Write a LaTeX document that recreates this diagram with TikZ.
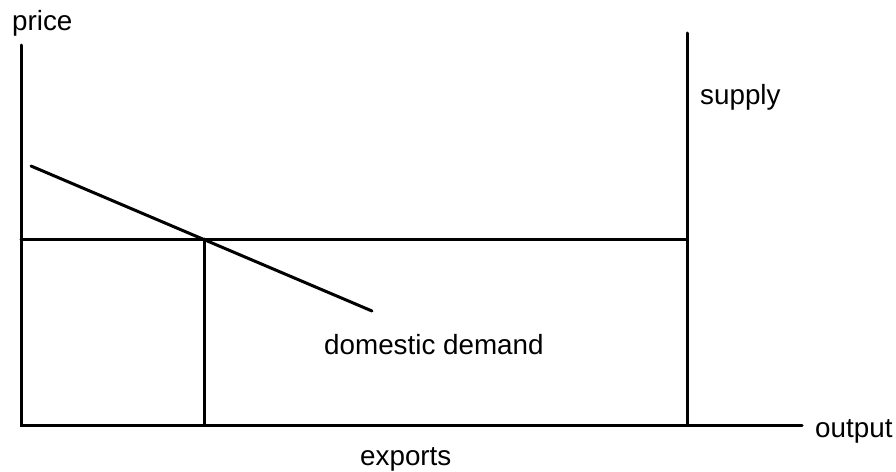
\documentclass[tikz,border=0pt]{standalone}
\usepackage{fontspec}
\setmainfont{Liberation Sans}
\begin{document}
\begin{tikzpicture}[x=1pt,y=-1pt,
  axis/.style={line width=3pt, line cap=round},
  curve/.style={line width=3pt, line cap=round},
  lbl/.style={anchor=base west, inner sep=0pt, font=\fontsize{27.8}{31}\selectfont}]
\useasboundingbox (0,0) rectangle (896,471);
% coordinates
\coordinate (ytop) at (21,45);
\coordinate (origin) at (21,425);
\coordinate (xend) at (802,425);
\coordinate (stop) at (687,33);
\coordinate (sbot) at (687,425);
\coordinate (pleft) at (21,239);
\coordinate (pright) at (687,239);
\coordinate (eq) at (204,239);
\coordinate (eqbot) at (204,425);
\coordinate (d1) at (31,166);
\coordinate (d2) at (372,311);
% lines
\draw[axis] (ytop) -- (origin) -- (xend);
\draw[axis] (stop) -- (sbot);
\draw[curve] (pleft) -- (pright);
\draw[curve] (eq) -- (eqbot);
\draw[curve] (d1) -- (d2);
% labels
\node[lbl] (price) at (12,30) {price};
\node[lbl] (supply) at (700,104) {supply};
\node[lbl] (dd) at (324,354) {domestic demand};
\node[lbl] (output) at (815,437) {output};
\node[lbl] (exports) at (360,465) {exports};
\end{tikzpicture}
\end{document}
